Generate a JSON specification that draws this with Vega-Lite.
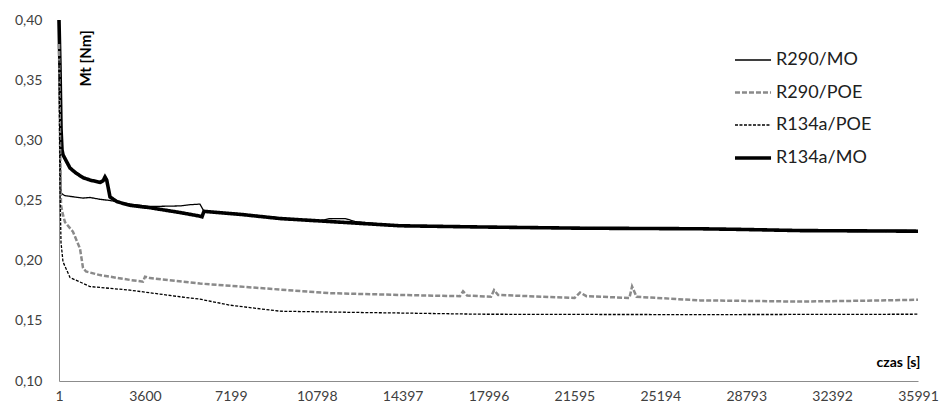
{
  "$schema": "https://vega.github.io/schema/vega-lite/v6.json",
  "width": 859,
  "height": 361,
  "autosize": "none",
  "padding": {"left": 59, "top": 20, "right": 21, "bottom": 21},
  "background": "white",
  "config": {"view": {"stroke": null}, "font": "Lato"},
  "datasets": {
    "d": [
      {"t": 1, "v": 0.400, "s": "R134a/MO"},
      {"t": 43, "v": 0.360, "s": "R134a/MO"},
      {"t": 85, "v": 0.310, "s": "R134a/MO"},
      {"t": 127, "v": 0.292, "s": "R134a/MO"},
      {"t": 169, "v": 0.288, "s": "R134a/MO"},
      {"t": 300, "v": 0.283, "s": "R134a/MO"},
      {"t": 462, "v": 0.277, "s": "R134a/MO"},
      {"t": 700, "v": 0.273, "s": "R134a/MO"},
      {"t": 1007, "v": 0.269, "s": "R134a/MO"},
      {"t": 1300, "v": 0.267, "s": "R134a/MO"},
      {"t": 1719, "v": 0.265, "s": "R134a/MO"},
      {"t": 1850, "v": 0.2665, "s": "R134a/MO"},
      {"t": 1928, "v": 0.2695, "s": "R134a/MO"},
      {"t": 2000, "v": 0.267, "s": "R134a/MO"},
      {"t": 2138, "v": 0.253, "s": "R134a/MO"},
      {"t": 2431, "v": 0.249, "s": "R134a/MO"},
      {"t": 2976, "v": 0.246, "s": "R134a/MO"},
      {"t": 3813, "v": 0.244, "s": "R134a/MO"},
      {"t": 5070, "v": 0.240, "s": "R134a/MO"},
      {"t": 5908, "v": 0.237, "s": "R134a/MO"},
      {"t": 5992, "v": 0.2365, "s": "R134a/MO"},
      {"t": 6076, "v": 0.241, "s": "R134a/MO"},
      {"t": 7585, "v": 0.2385, "s": "R134a/MO"},
      {"t": 9261, "v": 0.235, "s": "R134a/MO"},
      {"t": 11356, "v": 0.2325, "s": "R134a/MO"},
      {"t": 14290, "v": 0.229, "s": "R134a/MO"},
      {"t": 17642, "v": 0.228, "s": "R134a/MO"},
      {"t": 21832, "v": 0.227, "s": "R134a/MO"},
      {"t": 26861, "v": 0.2265, "s": "R134a/MO"},
      {"t": 28500, "v": 0.226, "s": "R134a/MO"},
      {"t": 31051, "v": 0.225, "s": "R134a/MO"},
      {"t": 35991, "v": 0.2245, "s": "R134a/MO"},

      {"t": 1, "v": 0.390, "s": "R290/MO"},
      {"t": 43, "v": 0.300, "s": "R290/MO"},
      {"t": 85, "v": 0.256, "s": "R290/MO"},
      {"t": 252, "v": 0.254, "s": "R290/MO"},
      {"t": 1007, "v": 0.252, "s": "R290/MO"},
      {"t": 1300, "v": 0.2525, "s": "R290/MO"},
      {"t": 1719, "v": 0.251, "s": "R290/MO"},
      {"t": 2138, "v": 0.250, "s": "R290/MO"},
      {"t": 2976, "v": 0.247, "s": "R290/MO"},
      {"t": 3813, "v": 0.245, "s": "R290/MO"},
      {"t": 5070, "v": 0.2455, "s": "R290/MO"},
      {"t": 5489, "v": 0.2465, "s": "R290/MO"},
      {"t": 5908, "v": 0.247, "s": "R290/MO"},
      {"t": 6076, "v": 0.241, "s": "R290/MO"},
      {"t": 7585, "v": 0.239, "s": "R290/MO"},
      {"t": 9261, "v": 0.2355, "s": "R290/MO"},
      {"t": 10900, "v": 0.233, "s": "R290/MO"},
      {"t": 11356, "v": 0.235, "s": "R290/MO"},
      {"t": 12000, "v": 0.235, "s": "R290/MO"},
      {"t": 12404, "v": 0.2325, "s": "R290/MO"},
      {"t": 14290, "v": 0.229, "s": "R290/MO"},
      {"t": 17642, "v": 0.228, "s": "R290/MO"},
      {"t": 21832, "v": 0.227, "s": "R290/MO"},
      {"t": 26861, "v": 0.2265, "s": "R290/MO"},
      {"t": 31051, "v": 0.2255, "s": "R290/MO"},
      {"t": 35991, "v": 0.225, "s": "R290/MO"},

      {"t": 1, "v": 0.380, "s": "R290/POE"},
      {"t": 43, "v": 0.300, "s": "R290/POE"},
      {"t": 85, "v": 0.246, "s": "R290/POE"},
      {"t": 169, "v": 0.238, "s": "R290/POE"},
      {"t": 252, "v": 0.232, "s": "R290/POE"},
      {"t": 588, "v": 0.224, "s": "R290/POE"},
      {"t": 881, "v": 0.210, "s": "R290/POE"},
      {"t": 1007, "v": 0.194, "s": "R290/POE"},
      {"t": 1132, "v": 0.191, "s": "R290/POE"},
      {"t": 1719, "v": 0.188, "s": "R290/POE"},
      {"t": 2976, "v": 0.184, "s": "R290/POE"},
      {"t": 3520, "v": 0.1825, "s": "R290/POE"},
      {"t": 3604, "v": 0.1867, "s": "R290/POE"},
      {"t": 3813, "v": 0.1855, "s": "R290/POE"},
      {"t": 5908, "v": 0.181, "s": "R290/POE"},
      {"t": 9261, "v": 0.176, "s": "R290/POE"},
      {"t": 11356, "v": 0.173, "s": "R290/POE"},
      {"t": 14290, "v": 0.1715, "s": "R290/POE"},
      {"t": 16800, "v": 0.1705, "s": "R290/POE"},
      {"t": 16930, "v": 0.1745, "s": "R290/POE"},
      {"t": 17100, "v": 0.171, "s": "R290/POE"},
      {"t": 18100, "v": 0.170, "s": "R290/POE"},
      {"t": 18229, "v": 0.1755, "s": "R290/POE"},
      {"t": 18400, "v": 0.1715, "s": "R290/POE"},
      {"t": 21600, "v": 0.169, "s": "R290/POE"},
      {"t": 21832, "v": 0.1735, "s": "R290/POE"},
      {"t": 22100, "v": 0.1705, "s": "R290/POE"},
      {"t": 23900, "v": 0.169, "s": "R290/POE"},
      {"t": 24011, "v": 0.1785, "s": "R290/POE"},
      {"t": 24200, "v": 0.170, "s": "R290/POE"},
      {"t": 26861, "v": 0.167, "s": "R290/POE"},
      {"t": 31051, "v": 0.166, "s": "R290/POE"},
      {"t": 33000, "v": 0.1665, "s": "R290/POE"},
      {"t": 35991, "v": 0.1675, "s": "R290/POE"},

      {"t": 1, "v": 0.370, "s": "R134a/POE"},
      {"t": 43, "v": 0.260, "s": "R134a/POE"},
      {"t": 85, "v": 0.215, "s": "R134a/POE"},
      {"t": 169, "v": 0.199, "s": "R134a/POE"},
      {"t": 462, "v": 0.186, "s": "R134a/POE"},
      {"t": 1300, "v": 0.1785, "s": "R134a/POE"},
      {"t": 2976, "v": 0.1755, "s": "R134a/POE"},
      {"t": 5070, "v": 0.1700, "s": "R134a/POE"},
      {"t": 5908, "v": 0.1680, "s": "R134a/POE"},
      {"t": 7167, "v": 0.1630, "s": "R134a/POE"},
      {"t": 9261, "v": 0.1580, "s": "R134a/POE"},
      {"t": 12404, "v": 0.1570, "s": "R134a/POE"},
      {"t": 14290, "v": 0.1565, "s": "R134a/POE"},
      {"t": 17642, "v": 0.1555, "s": "R134a/POE"},
      {"t": 21832, "v": 0.1553, "s": "R134a/POE"},
      {"t": 26861, "v": 0.1552, "s": "R134a/POE"},
      {"t": 31051, "v": 0.1553, "s": "R134a/POE"},
      {"t": 35991, "v": 0.1555, "s": "R134a/POE"}
    ]
  },
  "data": {"name": "d"},
  "mark": {"type": "line", "interpolate": "linear"},
  "encoding": {
    "x": {
      "field": "t", "type": "quantitative",
      "scale": {"domain": [1, 35991], "nice": false, "zero": false},
      "axis": {
        "values": [1, 3600, 7199, 10798, 14397, 17996, 21595, 25194, 28793, 32392, 35991],
        "format": "d",
        "grid": false, "ticks": false,
        "domainColor": "#8c8c8c", "domainWidth": 1,
        "labelFont": "Lato", "labelFontSize": 14, "labelColor": "#404040",
        "labelPadding": 8, "labelFlush": false, "labelOverlap": false,
        "title": "czas [s]", "titleFont": "Lato", "titleFontSize": 14, "titleFontWeight": "bold",
        "titleColor": "#000", "titleX": 861, "titleY": -15, "titleAlign": "right", "titleBaseline": "alphabetic"
      }
    },
    "y": {
      "field": "v", "type": "quantitative",
      "scale": {"domain": [0.10, 0.40], "nice": false, "zero": false},
      "axis": {
        "values": [0.10, 0.15, 0.20, 0.25, 0.30, 0.35, 0.40],
        "labelExpr": "replace(format(datum.value, '.2f'), '.', ',')",
        "grid": false, "ticks": false,
        "domainColor": "#8c8c8c", "domainWidth": 1,
        "labelFont": "Lato", "labelFontSize": 14, "labelColor": "#404040",
        "labelPadding": 17, "labelFlush": false, "labelOverlap": false,
        "title": "Mt [Nm]", "titleFont": "Lato", "titleFontSize": 15, "titleFontWeight": "bold",
        "titleColor": "#000", "titleAngle": -90, "titleX": 26, "titleY": 38,
        "titleAlign": "center", "titleBaseline": "middle"
      }
    },
    "color": {
      "field": "s", "type": "nominal",
      "scale": {"domain": ["R290/MO", "R290/POE", "R134a/POE", "R134a/MO"], "range": ["#000000", "#8a8a8a", "#000000", "#000000"]},
      "legend": {
        "orient": "none", "legendX": 674, "legendY": 21, "title": null,
        "symbolType": "stroke", "symbolSize": 1300, "rowPadding": 4, "padding": 0,
        "labelFont": "Lato", "labelFontSize": 18, "labelColor": "#202020", "labelOffset": 3
      }
    },
    "strokeDash": {
      "field": "s", "type": "nominal",
      "scale": {"domain": ["R290/MO", "R290/POE", "R134a/POE", "R134a/MO"], "range": [[1, 0], [5, 2], [3, 1.5], [1, 0]]}
    },
    "strokeWidth": {
      "field": "s", "type": "nominal",
      "scale": {"type": "ordinal", "domain": ["R290/MO", "R290/POE", "R134a/POE", "R134a/MO"], "range": [1.3, 2.5, 1.3, 3.6]}
    },
    "order": {"field": "t", "type": "quantitative"}
  }
}
